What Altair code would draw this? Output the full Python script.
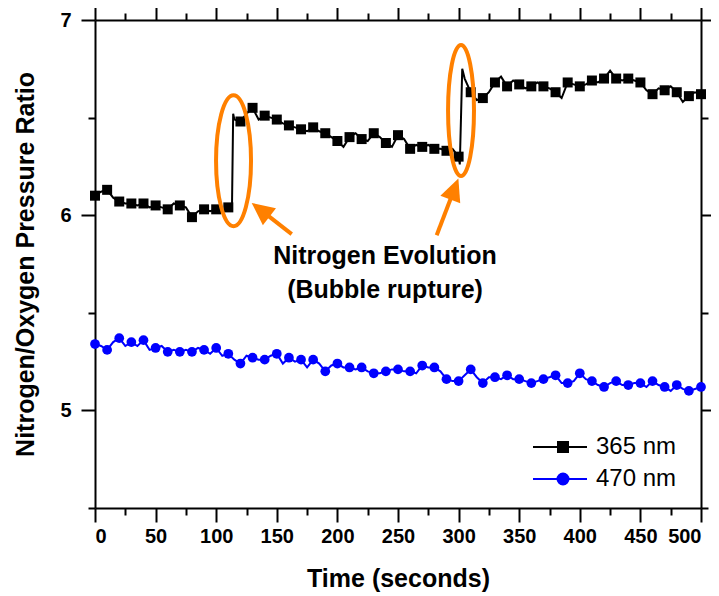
import altair as alt
import pandas as pd

# ---------------- data ----------------
t_365 = [0, 5, 10, 15, 20, 25, 30, 35, 40, 45, 50, 55, 60, 65, 70, 75, 80, 85, 90, 95,
         100, 105, 110, 113, 114, 115, 120, 125, 130, 135, 140, 145, 150, 155, 160, 165,
         170, 175, 180, 185, 190, 195, 200, 205, 210, 215, 220, 225, 230, 235, 240, 245,
         250, 255, 260, 265, 270, 275, 280, 285, 290, 295, 300, 301, 303, 305, 310, 315,
         320, 325, 330, 335, 340, 345, 350, 355, 360, 365, 370, 375, 380, 385, 390, 395,
         400, 405, 410, 415, 420, 425, 430, 435, 440, 445, 450, 455, 460, 465, 470, 475,
         480, 485, 490, 495, 500]
v_365 = [6.10, 6.12, 6.13, 6.09, 6.07, 6.06, 6.06, 6.05, 6.06, 6.04, 6.05, 6.04, 6.03, 6.06,
         6.05, 6.04, 5.99, 6.02, 6.03, 6.02, 6.03, 6.02, 6.04, 6.03, 6.52, 6.49, 6.48, 6.52,
         6.55, 6.49, 6.51, 6.50, 6.49, 6.47, 6.46, 6.45, 6.44, 6.43, 6.45, 6.43, 6.42, 6.40,
         6.38, 6.35, 6.40, 6.42, 6.39, 6.38, 6.42, 6.40, 6.37, 6.35, 6.41, 6.39, 6.34, 6.36,
         6.35, 6.36, 6.34, 6.34, 6.33, 6.34, 6.30, 6.26, 6.75, 6.70, 6.63, 6.59, 6.60, 6.63,
         6.68, 6.71, 6.66, 6.69, 6.67, 6.65, 6.66, 6.68, 6.66, 6.65, 6.63, 6.60, 6.68, 6.67,
         6.66, 6.67, 6.69, 6.68, 6.70, 6.74, 6.70, 6.69, 6.70, 6.69, 6.68, 6.64, 6.62, 6.65,
         6.64, 6.66, 6.63, 6.58, 6.61, 6.63, 6.62]

t_470 = [0, 5, 10, 15, 20, 25, 30, 35, 40, 45, 50, 55, 60, 65, 70, 75, 80, 85, 90, 95,
         100, 105, 110, 115, 120, 125, 130, 135, 140, 145, 150, 155, 160, 165, 170, 175,
         180, 185, 190, 195, 200, 205, 210, 215, 220, 225, 230, 235, 240, 245, 250, 255,
         260, 265, 270, 275, 280, 285, 290, 295, 300, 305, 310, 315, 320, 325, 330, 335,
         340, 345, 350, 355, 360, 365, 370, 375, 380, 385, 390, 395, 400, 405, 410, 415,
         420, 425, 430, 435, 440, 445, 450, 455, 460, 465, 470, 475, 480, 485, 490, 495, 500]
v_470 = [5.34, 5.33, 5.31, 5.35, 5.37, 5.33, 5.35, 5.33, 5.36, 5.31, 5.32, 5.33, 5.30, 5.31,
         5.30, 5.31, 5.30, 5.32, 5.31, 5.29, 5.32, 5.28, 5.29, 5.26, 5.24, 5.28, 5.27, 5.26,
         5.26, 5.28, 5.29, 5.24, 5.27, 5.25, 5.26, 5.22, 5.26, 5.24, 5.20, 5.23, 5.24, 5.22,
         5.22, 5.21, 5.22, 5.20, 5.19, 5.19, 5.20, 5.21, 5.21, 5.20, 5.20, 5.19, 5.23, 5.22,
         5.22, 5.20, 5.16, 5.15, 5.15, 5.18, 5.21, 5.17, 5.14, 5.17, 5.17, 5.16, 5.18, 5.16,
         5.16, 5.15, 5.14, 5.15, 5.16, 5.17, 5.18, 5.14, 5.14, 5.15, 5.19, 5.16, 5.15, 5.13,
         5.12, 5.14, 5.15, 5.13, 5.13, 5.14, 5.14, 5.12, 5.15, 5.13, 5.12, 5.10, 5.13, 5.11,
         5.10, 5.11, 5.12]

series_names = ["365 nm", "470 nm"]
series_colors = ["#000000", "#0000FF"]

x_tick_values = list(range(0, 501, 25))
y_tick_values = [4.5, 5, 5.5, 6, 6.5, 7]

# annotations (data coordinates)
ellipse_t = [114.3, 302.0]
ellipse_v = [6.279, 6.536]
arrow_tail_t = [162.3, 281.9]
arrow_tail_v = [5.903, 5.897]
arrow_neck_t = [139.0, 295.4]
arrow_neck_v = [6.016, 6.116]
arrow_tip_t = [129.3, 299.8]
arrow_tip_v = [6.063, 6.188]
arrow_angle = [308, 21]
note_lines = ["Nitrogen Evolution", "(Bubble rupture)"]
note_t = [239.3, 239.3]
note_v = [5.79, 5.615]

# ---------------- tables ----------------
d365 = pd.DataFrame({"t": t_365, "v": v_365, "series": series_names[0]})
d470 = pd.DataFrame({"t": t_470, "v": v_470, "series": series_names[1]})
dall = pd.concat([d365, d470], ignore_index=True)
ell = pd.DataFrame({"t": ellipse_t, "v": ellipse_v})
arr = pd.DataFrame({"t": arrow_tail_t, "v": arrow_tail_v, "t2": arrow_neck_t,
                    "v2": arrow_neck_v, "tt": arrow_tip_t, "tv": arrow_tip_v,
                    "ang": arrow_angle})
notes = pd.DataFrame({"t": note_t, "v": note_v, "txt": note_lines})

FONT = "Liberation Sans"
ORANGE = "#FF8000"

xs = alt.Scale(domain=[0, 500], nice=False, zero=False)
ys = alt.Scale(domain=[4.5, 7], nice=False, zero=False)

x_tick = {"condition": {"test": "datum.value % 50 === 0", "value": 14}, "value": 7}
y_tick = {"condition": {"test": "datum.value % 1 === 0", "value": 14}, "value": 7}

x_bottom = alt.Axis(orient="bottom", values=x_tick_values, tickSize=x_tick,
                    labelExpr="datum.value % 50 === 0 ? datum.label : ''",
                    labelPadding=4, titlePadding=20, titleFontSize=25,
                    title="Time (seconds)")
y_left = alt.Axis(orient="left", values=y_tick_values, tickSize=y_tick,
                  labelExpr="datum.value % 1 === 0 ? format(datum.value, 'd') : ''",
                  labelPadding=10, titlePadding=21, titleFontSize=25,
                  title="Nitrogen/Oxygen Pressure Ratio")
x_top = alt.Axis(orient="top", values=x_tick_values, tickSize=x_tick, labels=False, title=None)
y_right = alt.Axis(orient="right", values=y_tick_values, tickSize=y_tick, labels=False, title=None)

X = alt.X("t:Q", scale=xs, axis=x_bottom)
Y = alt.Y("v:Q", scale=ys, axis=y_left)

line365 = alt.Chart(d365).mark_line(color=series_colors[0], strokeWidth=2).encode(x=X, y=Y)
line470 = alt.Chart(d470).mark_line(color=series_colors[1], strokeWidth=2).encode(x=X, y=Y)
pts365 = alt.Chart(d365).transform_filter("datum.t % 10 === 0").mark_point(
    shape="square", filled=True, size=100, color=series_colors[0], opacity=1).encode(x=X, y=Y)
pts470 = alt.Chart(d470).transform_filter("datum.t % 10 === 0").mark_point(
    shape="circle", filled=True, size=95, color=series_colors[1], opacity=1).encode(x=X, y=Y)

SQ = "M-9.8,0H1M-4.8,-1H-2.8V1H-4.8Z"
CI = "M-9.8,0H1M-4.9,0A1.1,1.1,0,1,1,-2.7,0A1.1,1.1,0,1,1,-4.9,0Z"
leg = alt.Legend(orient="none", legendX=475, legendY=415, title=None,
                 labelFont=FONT, labelFontSize=24, labelFontWeight="normal",
                 labelColor="black", symbolSize=100, symbolStrokeWidth=2,
                 labelOffset=2, rowPadding=8)
fill_scale = alt.Scale(domain=series_names, range=series_colors)
legend_layer = alt.Chart(dall).transform_filter("datum.t < -1").mark_point(
    filled=True, size=100, strokeWidth=2, opacity=1).encode(
    x=X, y=Y,
    fill=alt.Fill("series:N", scale=fill_scale, legend=leg),
    stroke=alt.Stroke("series:N", scale=fill_scale, legend=leg),
    shape=alt.Shape("series:N", scale=alt.Scale(domain=series_names, range=[SQ, CI]), legend=leg),
)

E1 = "M0,-1A0.267,1,0,1,1,0,1A0.267,1,0,1,1,0,-1Z"
E2 = "M0,-1A0.198,1,0,1,1,0,1A0.198,1,0,1,1,0,-1Z"
ell1 = alt.Chart(ell.iloc[[0]]).mark_point(shape=E1, filled=False, color=ORANGE, strokeWidth=4,
                                           size=17161, opacity=1).encode(x=X, y=Y)
ell2 = alt.Chart(ell.iloc[[1]]).mark_point(shape=E2, filled=False, color=ORANGE, strokeWidth=4,
                                           size=17161, opacity=1).encode(x=X, y=Y)
shafts = alt.Chart(arr).mark_rule(color=ORANGE, strokeWidth=4).encode(
    x=X, y=Y, x2="t2:Q", y2="v2:Q")
HEAD = "M0,0L0.9,1.9L-0.9,1.9Z"
heads = alt.Chart(arr).mark_point(shape=HEAD, filled=True, color=ORANGE, size=560, opacity=1).encode(
    x=alt.X("tt:Q", scale=xs, axis=x_bottom), y=alt.Y("tv:Q", scale=ys, axis=y_left),
    angle=alt.Angle("ang:Q", scale=None))
texts = alt.Chart(notes).mark_text(font=FONT, fontSize=25, fontWeight="bold", align="center",
                                   baseline="middle", color="black").encode(x=X, y=Y, text="txt:N")

inner = alt.layer(line470, pts470, line365, pts365, ell1, ell2, shafts, heads, texts, legend_layer)

frame = alt.Chart(dall).mark_point(opacity=0, size=1).encode(
    x=alt.X("t:Q", scale=xs, axis=x_top),
    y=alt.Y("v:Q", scale=ys, axis=y_right))

chart = alt.layer(inner, frame).resolve_scale(x="independent", y="independent").properties(
    width=606, height=488,
    autosize=alt.AutoSizeParams(type="none"),
    padding={"left": 87, "top": 12, "right": 10, "bottom": 88},
).configure_view(stroke=None).configure_axis(
    domainColor="black", domainWidth=2, tickColor="black", tickWidth=2, grid=False,
    labelFont=FONT, labelFontSize=20, labelFontWeight="bold", labelColor="black",
    titleFont=FONT, titleFontSize=24, titleFontWeight="bold", titleColor="black",
)

chart.save("out.html", embed_options={"renderer": "svg", "actions": False})
